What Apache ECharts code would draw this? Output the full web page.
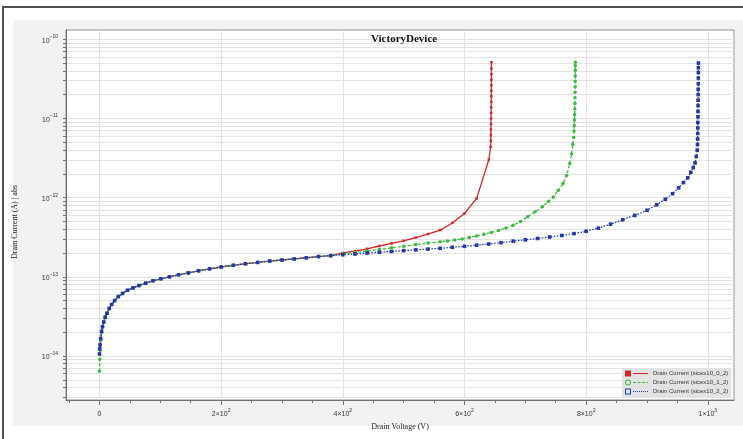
<!DOCTYPE html>
<html>
<head>
<meta charset="utf-8">
<title>VictoryDevice</title>
<script src="https://cdn.jsdelivr.net/npm/echarts@6/dist/echarts.min.js"></script>
<style>
  html, body { margin: 0; padding: 0; background: #fff; }
  #wrap { position: relative; width: 743px; height: 439px; overflow: hidden; background: #fff; }
  #frame { position: absolute; left: 2px; top: 6px; width: 800px; height: 500px; border: 2px solid #505050; }
  #panel { position: absolute; left: 13px; top: 20px; width: 730px; height: 406px; background: #f2f2f0; }
  #chart { position: absolute; left: 0; top: 0; width: 743px; height: 439px; }
</style>
</head>
<body>
<div id="wrap">
  <div id="frame"></div>
  <div id="panel"></div>
  <div id="chart"></div>
</div>
<script>
// 起始段 (0 ~ 3.5 V)
const headVolt = [0, 0.5, 1, 2, 3.5];
const headCurrBlue = [1.06e-14, 1.23e-14, 1.38e-14, 1.66e-14, 2.04e-14];
const headCurrGreen = [6.4e-15, 9.12e-15, 1.17e-14, 1.58e-14, 2.0e-14];

// 三条曲线重合的部分
const sharedVolt = [5, 7, 9.5, 12.5, 16, 20, 25, 31, 38, 46, 55, 65, 76, 88, 101, 115, 130, 146, 163, 181,
  200, 220, 240, 260, 280, 300, 320, 340, 360, 380];
const sharedCurr = [2.34e-14, 2.69e-14, 3.09e-14, 3.47e-14, 3.98e-14, 4.47e-14, 5.01e-14, 5.62e-14, 6.17e-14, 6.76e-14,
  7.24e-14, 7.76e-14, 8.32e-14, 8.91e-14, 9.44e-14, 1.0e-13, 1.06e-13, 1.12e-13, 1.19e-13, 1.26e-13,
  1.33e-13, 1.40e-13, 1.46e-13, 1.52e-13, 1.58e-13, 1.63e-13, 1.68e-13, 1.74e-13, 1.80e-13, 1.85e-13];

// sicex10_0_2
const redTailVolt = [400, 420, 440, 460, 480, 500, 520, 540, 560, 580, 600, 620, 640, 643,
  643.3, 643.4, 643.5, 643.6, 643.7, 643.8, 643.9, 644, 644.05, 644.1, 644.15, 644.2, 644.25, 644.3, 644.3];
const redTailCurr = [2.00e-13, 2.11e-13, 2.26e-13, 2.45e-13, 2.64e-13, 2.85e-13, 3.13e-13, 3.47e-13, 3.89e-13, 4.79e-13,
  6.31e-13, 9.77e-13, 3.02e-12, 4.37e-12,
  5.25e-12, 6.17e-12, 7.24e-12, 8.51e-12, 1.0e-11, 1.17e-11, 1.38e-11, 1.62e-11, 1.91e-11, 2.24e-11,
  2.63e-11, 3.09e-11, 3.63e-11, 4.27e-11, 5.13e-11];

// sicex10_1_2
const greenTailVolt = [400, 420, 440, 460, 480, 500, 520, 540, 560, 572, 584, 596, 608, 620, 632, 644, 656, 668,
  680, 692, 704, 716, 728, 738, 746, 754, 762, 768, 773, 776, 778, 779.5,
  780, 780.4, 780.8, 781.1, 781.3, 781.5, 781.7, 781.8, 781.9, 782, 782.1, 782.2, 782.2, 782.3];
const greenTailCurr = [1.95e-13, 2.03e-13, 2.12e-13, 2.22e-13, 2.32e-13, 2.43e-13, 2.55e-13, 2.67e-13,
  2.77e-13, 2.84e-13, 2.92e-13, 3.01e-13, 3.13e-13, 3.28e-13, 3.44e-13, 3.62e-13, 3.85e-13, 4.12e-13,
  4.47e-13, 5.01e-13, 5.75e-13, 6.61e-13, 7.67e-13, 8.91e-13, 1.02e-12, 1.23e-12, 1.51e-12, 1.91e-12,
  2.69e-12, 3.55e-12, 4.68e-12, 5.75e-12,
  6.92e-12, 8.13e-12, 9.55e-12, 1.12e-11, 1.32e-11, 1.55e-11, 1.82e-11, 2.14e-11, 2.51e-11, 2.95e-11,
  3.47e-11, 4.07e-11, 4.68e-11, 5.13e-11];

// sicex10_2_2
const blueTailVolt = [400, 420, 440, 460, 480, 500, 520, 540, 560, 580, 600, 620, 640, 660, 680, 700, 720, 740, 760, 780,
  800, 820, 840, 860, 880, 900, 916, 930, 942, 952, 960, 967, 972, 976, 979, 981, 982.5, 983,
  983.2, 983.4, 983.5, 983.6, 983.7, 983.8, 983.9, 984, 984.1, 984.2, 984.3, 984.4, 984.4, 984.5, 984.5];
const blueTailCurr = [1.90e-13, 1.94e-13, 2.00e-13, 2.04e-13, 2.09e-13, 2.14e-13, 2.19e-13, 2.24e-13, 2.29e-13, 2.36e-13,
  2.43e-13, 2.51e-13, 2.60e-13, 2.70e-13, 2.82e-13, 2.93e-13, 3.05e-13, 3.18e-13, 3.33e-13, 3.51e-13,
  3.76e-13, 4.12e-13, 4.62e-13, 5.25e-13, 5.96e-13, 6.92e-13, 8.13e-13, 9.55e-13, 1.12e-12, 1.33e-12,
  1.55e-12, 1.78e-12, 2.09e-12, 2.40e-12, 2.75e-12, 3.31e-12, 3.98e-12, 4.68e-12,
  5.50e-12, 6.46e-12, 7.59e-12, 8.91e-12, 1.05e-11, 1.23e-11, 1.45e-11, 1.70e-11, 2.00e-11, 2.34e-11,
  2.75e-11, 3.24e-11, 3.80e-11, 4.37e-11, 5.01e-11];

const seriesNames = ['Drain Current (sicex10_0_2)', 'Drain Current (sicex10_1_2)', 'Drain Current (sicex10_2_2)'];
const seriesColors = ['#d42626', '#3fba3f', '#2339a8'];

// 坐标轴刻度
const xMajor = [0, 200, 400, 600, 800, 1000];
const xMinor = [-50, 50, 100, 150, 250, 300, 350, 450, 500, 550, 650, 700, 750, 850, 900, 950];
const yMajor = [1e-14, 1e-13, 1e-12, 1e-11, 1e-10];
const yDecades = [1e-15, 1e-14, 1e-13, 1e-12, 1e-11];
const yMinorFactor = [2, 3, 4, 5, 6, 7, 8, 9];

const X_MIN = -55, X_MAX = 1043;
const Y_MIN = 2.78e-15, Y_MAX = 1.31e-10;

const FONT_SANS = 'Liberation Sans, Arial, sans-serif';
const FONT_SERIF = 'Liberation Serif, Times New Roman, serif';

const yTicks = yMajor.slice();
yDecades.forEach((d) => {
  yMinorFactor.forEach((k) => {
    const v = Number((d * k).toPrecision(3));
    if (v >= Y_MIN && v <= Y_MAX) yTicks.push(v);
  });
});

const pairs = (volts, currs) => volts.map((v, i) => [v, currs[i]]);

const redData = pairs([...headVolt, ...sharedVolt, ...redTailVolt], [...headCurrBlue, ...sharedCurr, ...redTailCurr]);
const greenData = pairs([...headVolt, ...sharedVolt, ...greenTailVolt], [...headCurrGreen, ...sharedCurr, ...greenTailCurr]);
const blueData = pairs([...headVolt, ...sharedVolt, ...blueTailVolt], [...headCurrBlue, ...sharedCurr, ...blueTailCurr]);

// 图例图标：左侧符号 + 右侧线型
const iconRed = 'path://M0,0H6V6H0Z M8,2.5H23V3.5H8Z';
const iconGreen = 'path://M0,3A3,3 0 1,1 6,3A3,3 0 1,1 0,3Z M1,3A2,2 0 1,0 5,3A2,2 0 1,0 1,3Z '
  + 'M8,2.5h3v1h-3Z M12.5,2.5h3v1h-3Z M17,2.5h3v1h-3Z M21.5,2.5h1.5v1h-1.5Z';
const iconBlue = 'path://M0,0H6V6H0Z M1,1V5H5V1Z '
  + 'M8,2.5h1v1h-1Z M10,2.5h1v1h-1Z M12,2.5h1v1h-1Z M14,2.5h1v1h-1Z M16,2.5h1v1h-1Z M18,2.5h1v1h-1Z M20,2.5h1v1h-1Z M22,2.5h1v1h-1Z';

const axisColor = '#707070';
const gridLineColor = '#e3e3e3';
const labelRich = {
  b: { fontSize: 7, fontFamily: FONT_SANS, color: '#333', verticalAlign: 'bottom', lineHeight: 10 },
  s: { fontSize: 5, fontFamily: FONT_SANS, color: '#333', verticalAlign: 'top', lineHeight: 6 },
};

const chart = echarts.init(document.getElementById('chart'), null, { renderer: 'canvas' });

chart.setOption({
  animation: false,
  title: {
    text: 'VictoryDevice',
    left: 371,
    top: 34,
    padding: 0,
    textStyle: { fontFamily: FONT_SERIF, fontSize: 11, fontWeight: 'bold', color: '#111' },
  },
  grid: {
    left: 66, top: 30, width: 668, height: 370,
    show: true, backgroundColor: '#fff', borderColor: '#8f8f8f', borderWidth: 1,
    outerBoundsMode: 'none',
  },
  legend: {
    orient: 'vertical',
    left: 622,
    top: 368,
    padding: [2, 3],
    itemGap: 2,
    itemWidth: 23,
    itemHeight: 6,
    selectedMode: false,
    backgroundColor: '#e3e3e3',
    textStyle: { fontSize: 6, color: '#333', fontFamily: FONT_SANS, lineHeight: 7 },
    itemStyle: { borderWidth: 0 },
    data: [
      { name: seriesNames[0], icon: iconRed },
      { name: seriesNames[1], icon: iconGreen },
      { name: seriesNames[2], icon: iconBlue },
    ],
  },
  xAxis: [
    {
      type: 'value',
      min: X_MIN,
      max: X_MAX,
      position: 'bottom',
      name: 'Drain Voltage (V)',
      nameLocation: 'middle',
      nameGap: 19,
      nameTextStyle: { fontFamily: FONT_SERIF, fontSize: 8, color: '#222' },
      axisLine: { show: true, onZero: false, lineStyle: { color: axisColor, width: 1 } },
      axisTick: { show: true, length: 5, customValues: xMajor, lineStyle: { color: axisColor } },
      axisLabel: {
        customValues: xMajor,
        margin: 8,
        fontSize: 7,
        color: '#333',
        fontFamily: FONT_SANS,
        formatter: (v) => {
          if (v === 0) return '{b|0}';
          const p = Math.floor(Math.log10(v) + 1e-9);
          const m = Math.round(v / Math.pow(10, p));
          return '{b|' + m + '×10}{s|' + p + '}';
        },
        rich: labelRich,
      },
      splitLine: { show: true, lineStyle: { color: gridLineColor, width: 1 } },
    },
    {
      // 次刻度
      type: 'value',
      min: X_MIN,
      max: X_MAX,
      position: 'bottom',
      axisLine: { show: false, onZero: false },
      axisTick: { show: true, length: 3, customValues: xMinor, lineStyle: { color: axisColor } },
      axisLabel: { show: false },
      splitLine: { show: false },
    },
  ],
  yAxis: {
    type: 'log',
    logBase: 10,
    min: Y_MIN,
    max: Y_MAX,
    name: 'Drain Current (A) | abs',
    nameLocation: 'middle',
    nameGap: 47,
    nameTextStyle: { fontFamily: FONT_SERIF, fontSize: 8, color: '#222', padding: [0, 14, 0, 0] },
    axisLine: { show: true, onZero: false, lineStyle: { color: axisColor, width: 1 } },
    axisTick: { show: true, length: 3, customValues: yTicks, lineStyle: { color: axisColor } },
    axisLabel: {
      customValues: yMajor,
      margin: 8,
      fontSize: 7,
      color: '#333',
      fontFamily: FONT_SANS,
      formatter: (v) => {
        const p = Math.round(Math.log10(v));
        return '{b|10}{s|−' + Math.abs(p) + '}';
      },
      rich: labelRich,
    },
    splitLine: { show: true, lineStyle: { color: gridLineColor, width: 1 } },
    minorTick: { show: false },
  },
  series: [
    {
      name: seriesNames[0],
      type: 'line',
      data: redData,
      symbol: 'rect',
      symbolSize: 2.5,
      itemStyle: { color: seriesColors[0] },
      lineStyle: { color: seriesColors[0], width: 1.3, type: 'solid' },
      emphasis: { disabled: true },
      silent: true,
    },
    {
      name: seriesNames[1],
      type: 'line',
      data: greenData,
      symbol: 'circle',
      symbolSize: 3.5,
      itemStyle: { color: seriesColors[1] },
      lineStyle: { color: seriesColors[1], width: 1.3, type: [3, 2] },
      emphasis: { disabled: true },
      silent: true,
    },
    {
      name: seriesNames[2],
      type: 'line',
      data: blueData,
      symbol: 'rect',
      symbolSize: 3.6,
      itemStyle: { color: seriesColors[2] },
      lineStyle: { color: seriesColors[2], width: 1.3, type: [1.5, 1.5] },
      emphasis: { disabled: true },
      silent: true,
    },
  ],
});
</script>
</body>
</html>
